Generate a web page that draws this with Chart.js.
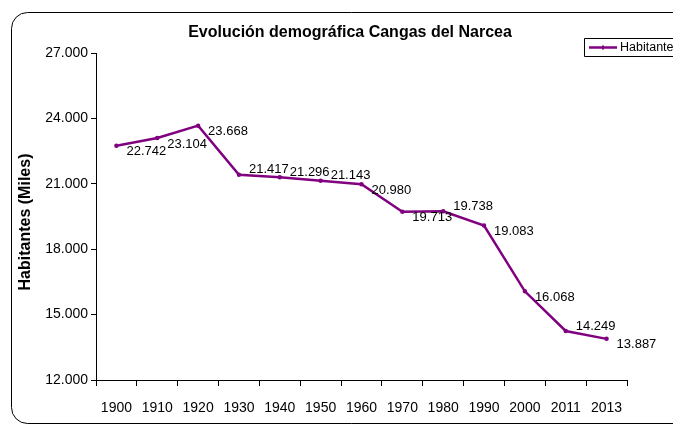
<!DOCTYPE html>
<html>
<head>
<meta charset="utf-8">
<script src="https://cdn.jsdelivr.net/npm/chart.js@4"></script>
<style>
  html, body { margin: 0; padding: 0; background: #fff; overflow: hidden; }
  #wrap { position: relative; width: 676px; height: 425px; }
</style>
</head>
<body>
<div id="wrap"><canvas id="chart" width="676" height="425"></canvas></div>
<script>
const years = ['1900', '1910', '1920', '1930', '1940', '1950', '1960', '1970', '1980', '1990', '2000', '2011', '2013'];
const habitantes = [22742, 23104, 23668, 21417, 21296, 21143, 20980, 19713, 19738, 19083, 16068, 14249, 13887];
// where each value label sits next to its point
const labelSide = ['below', 'below', 'below', 'above', 'above', 'above', 'below', 'below', 'above', 'below', 'below', 'above', 'below'];
const yTicks = [12000, 15000, 18000, 21000, 24000, 27000];

const FONT = '"Liberation Sans", Arial, sans-serif';
const PURPLE = '#800080';
const FRAME = { left: 11.5, top: 12.5, bottom: 423.5, radius: 16 };

const fmt = v => Math.round(v).toString().replace(/\B(?=(\d{3})+(?!\d))/g, '.');

const decorations = {
    id: 'decorations',
    beforeDraw(chart) {
        const ctx = chart.ctx;
        const { left: l, top: t, bottom: b, radius: r } = FRAME;
        const end = chart.width;
        ctx.save();
        ctx.fillStyle = '#fff';
        ctx.fillRect(0, 0, chart.width, chart.height);
        // outer frame, open on the right (cut off in the original)
        ctx.beginPath();
        ctx.moveTo(end, t);
        ctx.lineTo(l + r, t);
        ctx.arcTo(l, t, l, t + r, r);
        ctx.lineTo(l, b - r);
        ctx.arcTo(l, b, l + r, b, r);
        ctx.lineTo(end, b);
        ctx.strokeStyle = '#000';
        ctx.lineWidth = 1;
        ctx.stroke();
        ctx.restore();
    },
    afterDraw(chart) {
        const ctx = chart.ctx;
        const end = chart.width;
        ctx.save();

        // title
        ctx.fillStyle = '#000';
        ctx.font = 'bold 16px ' + FONT;
        ctx.textAlign = 'center';
        ctx.textBaseline = 'middle';
        ctx.fillText('Evolución demográfica Cangas del Narcea', 350, 33);

        // y axis title
        ctx.save();
        ctx.translate(26, 222);
        ctx.rotate(-Math.PI / 2);
        ctx.fillText('Habitantes (Miles)', 0, 0);
        ctx.restore();

        // value labels
        ctx.font = '13px ' + FONT;
        ctx.textAlign = 'left';
        const meta = chart.getDatasetMeta(0);
        meta.data.forEach((pt, i) => {
            const dy = labelSide[i] === 'above' ? -5 : 6;
            ctx.fillText(fmt(habitantes[i]), pt.x + 10, pt.y + dy);
        });

        // legend (box runs past the right edge)
        ctx.strokeStyle = '#000';
        ctx.lineWidth = 1;
        ctx.beginPath();
        ctx.moveTo(end, 38.5);
        ctx.lineTo(584.5, 38.5);
        ctx.lineTo(584.5, 56.5);
        ctx.lineTo(end, 56.5);
        ctx.stroke();
        ctx.strokeStyle = PURPLE;
        ctx.lineWidth = 2.5;
        ctx.beginPath();
        ctx.moveTo(589, 47.5);
        ctx.lineTo(617, 47.5);
        ctx.stroke();
        ctx.fillStyle = PURPLE;
        ctx.fillRect(602, 45.5, 2, 4);
        ctx.fillStyle = '#000';
        ctx.font = '12.5px ' + FONT;
        ctx.textBaseline = 'middle';
        ctx.fillText('Habitantes', 620, 47.5);

        // the frame is cut off on the right: keep the last columns clear
        ctx.fillStyle = '#fff';
        ctx.fillRect(chart.width - 3, 0, 3, chart.height);

        ctx.restore();
    }
};

new Chart(document.getElementById('chart'), {
    type: 'line',
    data: {
        labels: years,
        datasets: [{
            label: 'Habitantes',
            data: habitantes,
            borderColor: PURPLE,
            backgroundColor: PURPLE,
            borderWidth: 2.5,
            pointRadius: 1,
            pointHoverRadius: 1,
            tension: 0
        }]
    },
    options: {
        responsive: false,
        animation: false,
        layout: { padding: { left: 0, right: 49, top: 53, bottom: 0 } },
        plugins: {
            legend: { display: false },
            title: { display: false },
            tooltip: { enabled: false }
        },
        scales: {
            x: {
                offset: true,
                grid: { display: true, drawOnChartArea: false, offset: true, color: '#000', tickLength: 6, tickColor: '#000' },
                border: { color: '#000', width: 1 },
                ticks: { color: '#000', font: { family: FONT, size: 14 }, padding: 14, maxRotation: 0, autoSkip: false },
                afterFit(scale) { scale.height = 45; }
            },
            y: {
                min: 12000,
                max: 27000,
                afterBuildTicks(scale) { scale.ticks = yTicks.map(v => ({ value: v })); },
                grid: { display: true, drawOnChartArea: false, color: '#000', tickLength: 5, tickColor: '#000' },
                border: { color: '#000', width: 1 },
                ticks: { color: '#000', font: { family: FONT, size: 14 }, padding: 3, callback: v => fmt(v) },
                afterFit(scale) { scale.width = 96; }
            }
        }
    },
    plugins: [decorations]
});
</script>
</body>
</html>
